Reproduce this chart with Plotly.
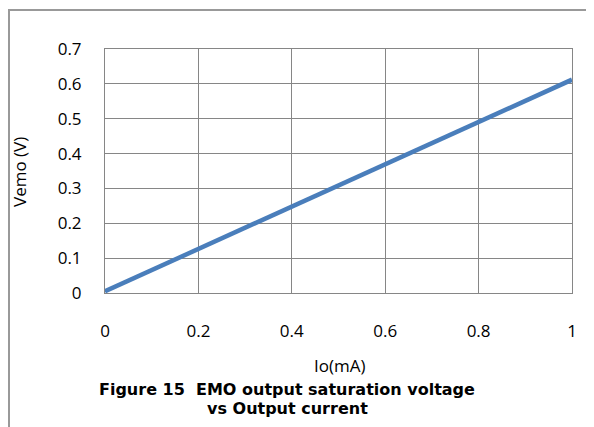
import plotly.graph_objects as go

io_ma = [0, 0.2, 0.4, 0.6, 0.8, 1.0]
vemo_v = [0.005, 0.126, 0.247, 0.368, 0.490, 0.612]
x_ticks = [0, 0.2, 0.4, 0.6, 0.8, 1]
y_ticks = [0, 0.1, 0.2, 0.3, 0.4, 0.5, 0.6, 0.7]

OFF = 8  # default page margin around the figure
W, H = 594 - OFF, 427 - OFF
L, R, T, B = 105 - OFF, 22, 49 - OFF, 134
pw, ph = W - L - R, H - T - B

def px(x):
    return (x - OFF - L) / pw

def py(y):
    return (H - B - (y - OFF)) / ph

fig = go.Figure()
fig.add_trace(go.Scatter(x=io_ma, y=vemo_v, mode="lines",
                         line=dict(color="#4A7EBB", width=4.5), showlegend=False,
                         cliponaxis=False))

tickfont = dict(family="Open Sans, Noto Sans, sans-serif", size=17, color="#000000")
fig.update_xaxes(range=[0, 1], tickvals=x_ticks, ticktext=[f"{v:g}" for v in x_ticks],
                 showgrid=True, gridcolor="#868686", gridwidth=1,
                 showline=True, linecolor="#868686", linewidth=1, mirror=True,
                 zeroline=False, ticks="", tickfont=tickfont, ticklabelstandoff=23)
fig.update_yaxes(range=[0, 0.7], tickvals=y_ticks, ticktext=[f"{v:g}" for v in y_ticks],
                 showgrid=True, gridcolor="#868686", gridwidth=1,
                 showline=True, linecolor="#868686", linewidth=1, mirror=True,
                 zeroline=False, ticks="", tickfont=tickfont, ticklabelstandoff=19)

capfont = dict(family="DejaVu Sans, sans-serif", size=16, color="#000000")
annos = [
    dict(text="Vemo (V)", x=px(19), y=py(172), textangle=-90, font=tickfont),
    dict(text="Io(mA)", x=px(340), y=py(365), font=tickfont),
    dict(text="<b>Figure 15  EMO output saturation voltage</b>",
         x=px(287), y=py(389), font=capfont),
    dict(text="<b>vs Output current</b>",
         x=px(287), y=py(408.5), font=capfont),
]
for a in annos:
    fig.add_annotation(xref="paper", yref="paper", showarrow=False,
                       xanchor="center", yanchor="middle", **a)

fig.add_shape(type="rect", xref="paper", yref="paper", layer="below",
              x0=px(OFF + 1), y0=py(10), x1=px(620), y1=py(450),
              line=dict(color="#999999", width=2), fillcolor="rgba(0,0,0,0)")

fig.update_layout(width=W, height=H, margin=dict(l=L, r=R, t=T, b=B),
                  plot_bgcolor="white", paper_bgcolor="white")
fig.write_html("out.html", config={"displayModeBar": False})
